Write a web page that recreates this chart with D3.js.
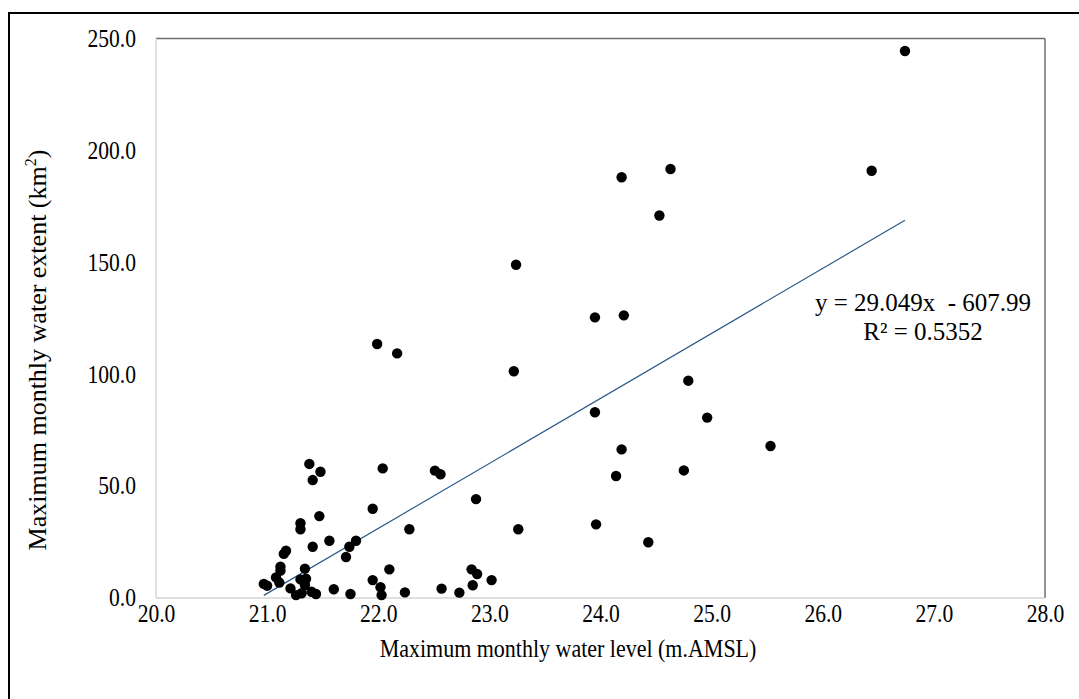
<!DOCTYPE html>
<html>
<head>
<meta charset="utf-8">
<script src="https://cdn.jsdelivr.net/npm/d3@7"></script>
<style>
  body { margin: 0; background: #fff; }
  text { font-family: "Liberation Serif", "Times New Roman", serif; fill: #000; }
</style>
</head>
<body>
<svg id="chart" width="1079" height="699"></svg>
<script>
// maximum monthly water level (m.AMSL) vs maximum monthly water extent (km2)
const waterLevel = [21.99, 22.17, 23.22, 21.38, 21.48, 21.41, 22.04, 22.51, 22.56, 22.88,
  21.95, 21.47, 21.30, 21.30, 22.28, 23.26, 21.56, 21.80, 21.74, 21.41,
  21.17, 21.15, 21.71, 21.12, 21.12, 21.34, 22.10, 21.08, 21.11, 20.97,
  21.00, 21.30, 21.35, 21.34, 21.21, 21.26, 21.31, 21.40, 21.44, 21.60,
  21.75, 21.95, 22.02, 22.03, 22.24, 22.57, 22.73, 22.85, 22.84, 22.89,
  23.02, 24.19, 24.63, 24.53, 23.24, 23.95, 24.21, 24.79, 23.95, 24.96,
  24.19, 25.53, 24.14, 24.75, 23.96, 24.43, 26.74, 26.44];
const waterExtent = [113.5, 109.3, 101.3, 59.9, 56.4, 52.7, 57.9, 56.9, 55.3, 44.2,
  39.9, 36.6, 33.4, 30.7, 30.7, 30.7, 25.6, 25.6, 22.9, 22.9,
  21.1, 19.7, 18.3, 14.0, 12.2, 13.1, 12.8, 9.2, 6.9, 6.3,
  5.5, 8.3, 8.6, 5.8, 4.3, 1.3, 2.1, 2.8, 1.8, 3.9,
  1.8, 8.0, 4.8, 1.3, 2.5, 4.2, 2.4, 5.7, 12.8, 10.7,
  8.0, 188.0, 191.7, 170.9, 148.9, 125.4, 126.3, 97.1, 83.0, 80.6,
  66.4, 67.9, 54.5, 57.0, 32.9, 24.9, 244.4, 190.9];

const xTicks = [20, 21, 22, 23, 24, 25, 26, 27, 28];
const yTicks = [0, 50, 100, 150, 200, 250];

const trendSlope = 29.049;
const trendIntercept = -607.99;
const trendText = ["y = 29.049x  - 607.99", "R\u00B2 = 0.5352"];

const xTitle = "Maximum monthly water level (m.AMSL)";

const width = 1079, height = 699;
const margin = {top: 38.5, right: 34, bottom: 101, left: 156};
const innerW = width - margin.left - margin.right;
const innerH = height - margin.top - margin.bottom;
const squeeze = 0.88; // source text looks a bit narrow

const svg = d3.select('#chart');

svg.append('rect')
  .attr('width', width).attr('height', height)
  .attr('fill', '#fff');

// outer frame (cropped on right/bottom)
svg.append('rect')
  .attr('x', 9).attr('y', 13)
  .attr('width', 1200).attr('height', 800)
  .attr('fill', 'none')
  .attr('stroke', '#000')
  .attr('stroke-width', 2);

const xScale = d3.scaleLinear().domain([20, 28]).range([0, innerW]);
const yScale = d3.scaleLinear().domain([0, 250]).range([innerH, 0]);

const g = svg.append('g')
  .attr('transform', `translate(${margin.left}, ${margin.top})`);

// plot area border: light on left/bottom, darker on top/right
g.append('line').attr('x1', 0).attr('x2', innerW).attr('y1', 0).attr('y2', 0)
  .attr('stroke', '#6f6f6f').attr('stroke-width', 1.5);
g.append('line').attr('x1', innerW).attr('x2', innerW).attr('y1', 0).attr('y2', innerH)
  .attr('stroke', '#6f6f6f').attr('stroke-width', 1.5);
g.append('line').attr('x1', 0).attr('x2', 0).attr('y1', 0).attr('y2', innerH)
  .attr('stroke', '#d4d4d4').attr('stroke-width', 1.5);
g.append('line').attr('x1', 0).attr('x2', innerW).attr('y1', innerH).attr('y2', innerH)
  .attr('stroke', '#d4d4d4').attr('stroke-width', 1.5);

const xAxis = g.append('g')
  .attr('transform', `translate(0, ${innerH})`)
  .call(d3.axisBottom(xScale).tickValues(xTicks).tickSize(0).tickPadding(7).tickFormat(d3.format('.1f')));
xAxis.select('.domain').remove();
xAxis.selectAll('text')
  .attr('font-family', null)
  .style('font-size', '24.5px')
  .attr('transform', `scale(${squeeze},1)`);

const yAxis = g.append('g')
  .call(d3.axisLeft(yScale).tickValues(yTicks).tickSize(0).tickPadding(0).tickFormat(d3.format('.1f')));
yAxis.select('.domain').remove();
yAxis.selectAll('text')
  .attr('font-family', null)
  .style('font-size', '24.5px')
  .attr('x', 0)
  .attr('transform', `translate(-20,0) scale(${squeeze},1)`);

// trend line over the observed range
const xExt = d3.extent(waterLevel);
const trendPts = xExt.map(x => [x, trendSlope * x + trendIntercept]);
g.append('path')
  .datum(trendPts)
  .attr('d', d3.line().x(d => xScale(d[0])).y(d => yScale(d[1])))
  .attr('fill', 'none')
  .attr('stroke', '#2c5b8a')
  .attr('stroke-width', 1.2);

g.selectAll('circle')
  .data(waterLevel.map((x, i) => ({x, y: waterExtent[i]})))
  .join('circle')
    .attr('cx', d => xScale(d.x))
    .attr('cy', d => yScale(d.y))
    .attr('r', 5.2)
    .attr('fill', '#000');

// equation label
svg.append('g')
  .selectAll('text')
  .data(trendText)
  .join('text')
    .attr('x', 923)
    .attr('y', (d, i) => 311 + i * 29)
    .attr('text-anchor', 'middle')
    .style('font-size', '25px')
    .style('white-space', 'pre')
    .text(d => d);

// axis titles
svg.append('text')
  .attr('transform', `translate(568, 657) scale(${squeeze},1)`)
  .attr('text-anchor', 'middle')
  .style('font-size', '25px')
  .text(xTitle);

const yTitle = svg.append('text')
  .attr('transform', 'translate(46, 350) rotate(-90)')
  .attr('text-anchor', 'middle')
  .style('font-size', '26px');
yTitle.append('tspan').text('Maximum monthly water extent (km');
yTitle.append('tspan').attr('dy', -10).style('font-size', '16px').text('2');
yTitle.append('tspan').attr('dy', 10).text(')');
</script>
</body>
</html>
